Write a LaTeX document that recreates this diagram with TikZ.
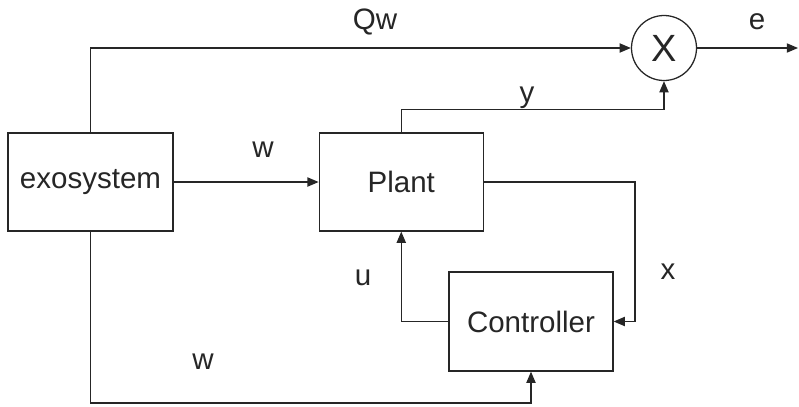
\documentclass[tikz,border=0pt]{standalone}
\usepackage{fontspec}
\setmainfont{Liberation Sans}
\usepackage{tikz}
\usetikzlibrary{arrows.meta,positioning}

\begin{document}
\begin{tikzpicture}[
  font=\fontsize{21}{25}\selectfont,
  line width=0.9pt, draw=black!85, text=black!85,
  box/.style={draw, minimum width=4.1cm, minimum height=2.45cm, inner sep=0pt},
  arr/.style={-{Triangle[length=2.8mm,width=2.3mm]}},
  lbl/.style={inner sep=0pt}
]
\useasboundingbox (0,0) rectangle (19.975,-10.15);
\node[box, minimum width=4.125cm] (exo) at (2.2625,-4.55) {exosystem};
\node[box, right=3.625cm of exo] (plant) {Plant};
\node[box, minimum height=2.475cm] (ctrl) at (13.275,-8.0375) {Controller};
\node[draw, circle, minimum size=1.625cm, inner sep=0pt,
  font=\fontsize{27}{30}\selectfont] (mult) at (16.6,-1.2) {X};
\coordinate (eout) at (19.95,-1.2);
\coordinate (wbot) at (2.2625,-10.075);

\draw[arr] (exo.north) |- (mult.west);
\draw[arr] (plant.north) -- ++(0,0.575) -| (mult.south);
\draw[arr] (mult.east) -- (eout);
\draw[arr] (exo.east) -- (plant.west);
\draw[arr] (plant.east) -- ++(3.775,0) |- (ctrl.east);
\draw[arr] (ctrl.west) -| (plant.south);
\draw[arr] (exo.south) -- (wbot) -| (ctrl.south);

% signal labels
\node[lbl] (lqw) at (9.375,-0.55) {Qw};
\node[lbl] (le) at (18.925,-0.55) {e};
\node[lbl] (ly) at (13.175,-2.45) {y};
\node[lbl] (lw) at (6.575,-3.75) {w};
\node[lbl] (lu) at (9.075,-6.95) {u};
\node[lbl] (lx) at (16.7,-6.8) {x};
\node[lbl] (lw2) at (5.075,-9.05) {w};
\end{tikzpicture}
\end{document}
